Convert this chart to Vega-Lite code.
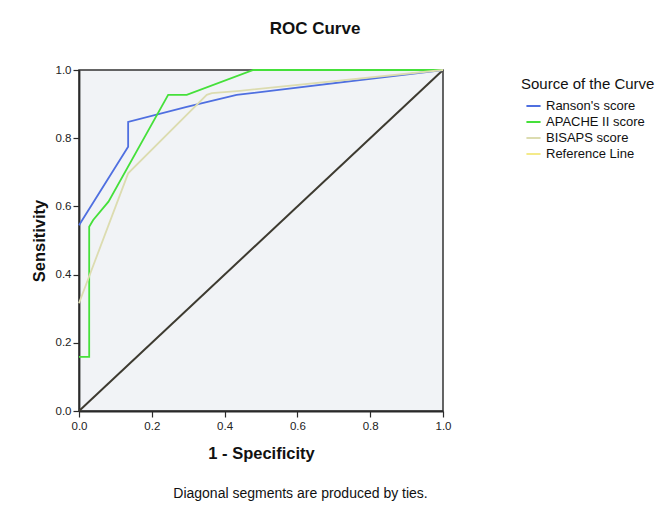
{
  "$schema": "https://vega.github.io/schema/vega-lite/v6.json",
  "autosize": {"type": "none"},
  "width": 364,
  "height": 341,
  "padding": {"left": 79, "top": 70, "right": 217, "bottom": 95},
  "background": "white",
  "title": {"text": "ROC Curve", "dx": 54, "offset": 26, "font": "Liberation Sans", "fontSize": 17, "fontWeight": "bold", "color": "#111"},
  "config": {
    "font": "Liberation Sans",
    "view": {"fill": "#f1f3f6", "stroke": "#333", "strokeWidth": 1.5},
    "axis": {"grid": false, "zindex": 1, "labelFlush": false, "domainColor": "#2a2a2a", "domainWidth": 1.8, "tickColor": "#2a2a2a", "tickSize": 6, "tickWidth": 1.2, "labelFont": "Liberation Sans", "labelFontSize": 11.5, "labelColor": "#222", "titleFont": "Liberation Sans", "titleFontSize": 16.5, "titleFontWeight": "bold", "titleColor": "#111"}
  },
  "datasets": {
    "roc": [
      {"source": "Ranson's score", "ord": 2, "fpr": 0, "tpr": 0.545},
      {"source": "Ranson's score", "ord": 3, "fpr": 0.135, "tpr": 0.775},
      {"source": "Ranson's score", "ord": 4, "fpr": 0.135, "tpr": 0.848},
      {"source": "Ranson's score", "ord": 5, "fpr": 0.296, "tpr": 0.892},
      {"source": "Ranson's score", "ord": 6, "fpr": 0.433, "tpr": 0.927},
      {"source": "Ranson's score", "ord": 7, "fpr": 1, "tpr": 1},
      {"source": "APACHE II score", "ord": 2, "fpr": 0, "tpr": 0.159},
      {"source": "APACHE II score", "ord": 3, "fpr": 0.028, "tpr": 0.159},
      {"source": "APACHE II score", "ord": 4, "fpr": 0.028, "tpr": 0.54},
      {"source": "APACHE II score", "ord": 5, "fpr": 0.039, "tpr": 0.56},
      {"source": "APACHE II score", "ord": 6, "fpr": 0.081, "tpr": 0.614},
      {"source": "APACHE II score", "ord": 7, "fpr": 0.245, "tpr": 0.927},
      {"source": "APACHE II score", "ord": 8, "fpr": 0.296, "tpr": 0.927},
      {"source": "APACHE II score", "ord": 9, "fpr": 0.479, "tpr": 1},
      {"source": "APACHE II score", "ord": 10, "fpr": 1, "tpr": 1},
      {"source": "BISAPS score", "ord": 2, "fpr": 0, "tpr": 0.316},
      {"source": "BISAPS score", "ord": 3, "fpr": 0.135, "tpr": 0.697},
      {"source": "BISAPS score", "ord": 4, "fpr": 0.351, "tpr": 0.927},
      {"source": "BISAPS score", "ord": 5, "fpr": 0.365, "tpr": 0.932},
      {"source": "BISAPS score", "ord": 6, "fpr": 0.442, "tpr": 0.939},
      {"source": "BISAPS score", "ord": 7, "fpr": 1, "tpr": 1}
    ],
    "ref": [
      {"source": "Reference Line", "ord": 1, "fpr": 0, "tpr": 0},
      {"source": "Reference Line", "ord": 2, "fpr": 1, "tpr": 1}
    ]
  },
  "layer": [
    {
      "data": {"name": "ref"},
      "mark": {"type": "line", "color": "#3d3a30", "strokeWidth": 2},
      "encoding": {
        "x": {"field": "fpr", "type": "quantitative", "scale": {"domain": [0, 1]},
              "axis": {"orient": "bottom", "labels": false, "ticks": false, "domain": false, "title": "Diagonal segments are produced by ties.", "titleFontWeight": "normal", "titleFontSize": 14, "titlePadding": 75, "titleX": 221}},
        "y": {"field": "tpr", "type": "quantitative", "scale": {"domain": [0, 1]},
              "axis": {"title": "Sensitivity", "format": ".1f", "values": [0, 0.2, 0.4, 0.6, 0.8, 1.0], "labelPadding": 2, "titlePadding": 8}},
        "order": {"field": "ord", "type": "quantitative"}
      }
    },
    {
      "data": {"name": "roc"},
      "mark": {"type": "line", "strokeWidth": 1.8},
      "encoding": {
        "x": {"field": "fpr", "type": "quantitative", "scale": {"domain": [0, 1]},
              "axis": {"orient": "bottom", "title": "1 - Specificity", "format": ".1f", "values": [0, 0.2, 0.4, 0.6, 0.8, 1.0], "labelPadding": 3, "titlePadding": 14}},
        "y": {"field": "tpr", "type": "quantitative", "scale": {"domain": [0, 1]},
              "axis": {"title": "Sensitivity", "format": ".1f", "values": [0, 0.2, 0.4, 0.6, 0.8, 1.0], "labelPadding": 2, "titlePadding": 8}},
        "color": {"field": "source", "type": "nominal",
                  "scale": {"domain": ["Ranson's score", "APACHE II score", "BISAPS score", "Reference Line"], "range": ["#4f6fe0", "#45e03a", "#dcdcb0", "#f4ea8a"]},
                  "legend": {"title": "Source of the Curve", "orient": "none", "legendX": 442, "legendY": 7, "symbolType": "stroke", "symbolSize": 200, "symbolOffset": 4, "symbolStrokeWidth": 2, "labelFontSize": 13, "labelFont": "Liberation Sans", "titleFont": "Liberation Sans", "titleFontSize": 15, "titleFontWeight": "normal", "titleColor": "#111", "labelColor": "#111", "rowPadding": 0, "clipHeight": 16, "titlePadding": 6}},
        "order": {"field": "ord", "type": "quantitative"}
      }
    }
  ],
  "resolve": {"scale": {"x": "independent"}, "axis": {"x": "independent"}}
}
